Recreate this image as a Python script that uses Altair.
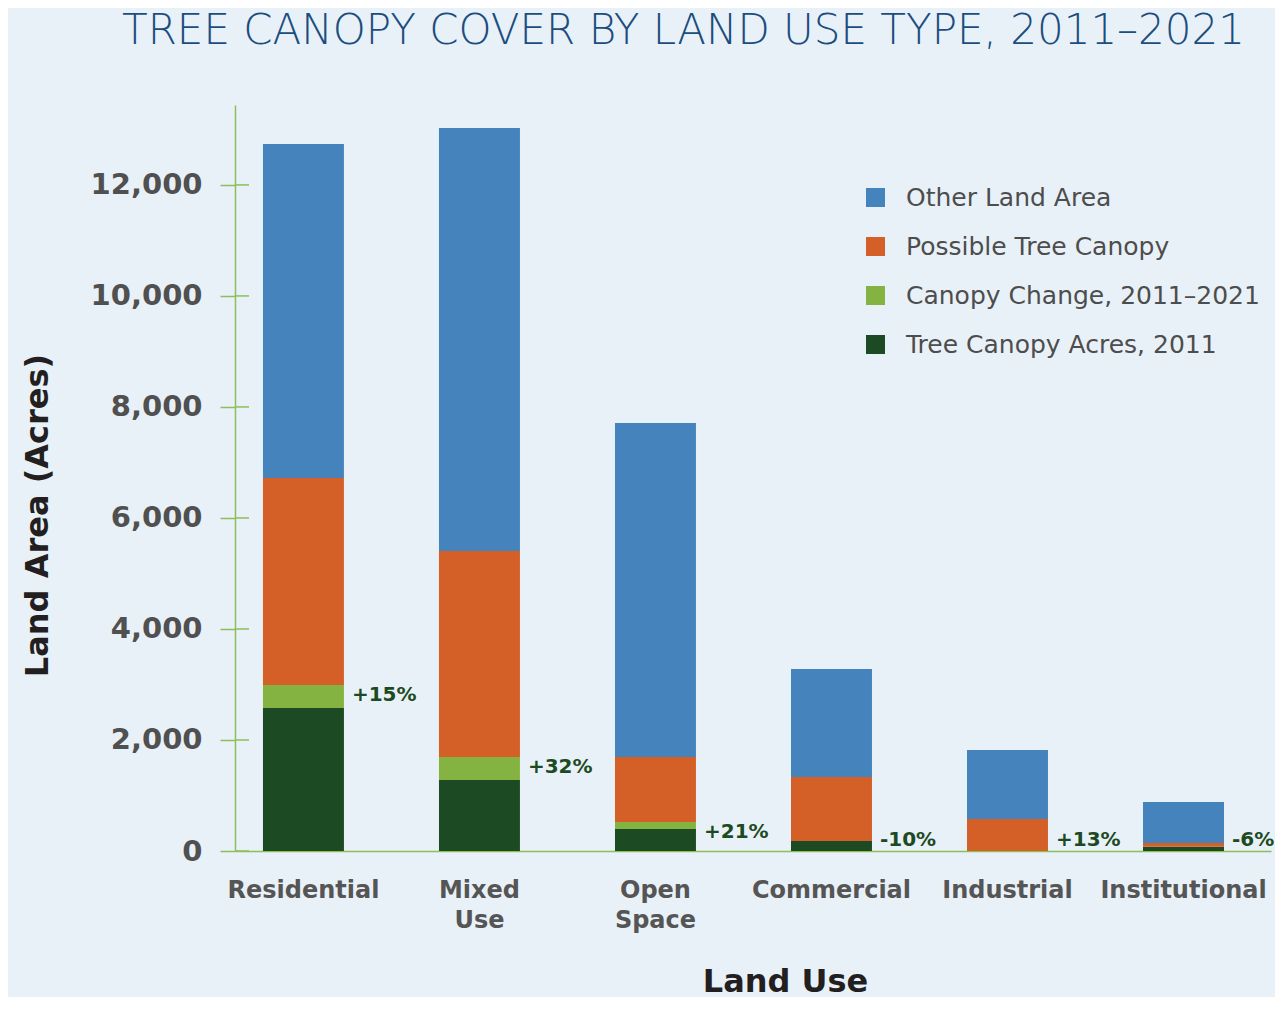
import altair as alt
import pandas as pd

categories = ["Residential", "Mixed Use", "Open Space", "Commercial", "Industrial", "Institutional"]
canopy_2011 = [2577, 1279, 396, 180, 0, 75]
canopy_change = [414, 415, 127, 0, 0, 0]
possible_canopy = [3730, 3711, 1171, 1153, 577, 70]
other_land = [6018, 7622, 6018, 1946, 1243, 739]
pct_labels = ["+15%", "+32%", "+21%", "-10%", "+13%", "-6%"]

series_stack = ["Tree Canopy Acres, 2011", "Canopy Change, 2011–2021", "Possible Tree Canopy", "Other Land Area"]
legend_order = ["Other Land Area", "Possible Tree Canopy", "Canopy Change, 2011–2021", "Tree Canopy Acres, 2011"]
legend_colors = ["#4583bd", "#d46027", "#84b342", "#1c4a22"]
y_ticks = [0, 2000, 4000, 6000, 8000, 10000, 12000]

GREEN = "#8cbf58"
FONT = "DejaVu Sans"

rows = []
for i, cat in enumerate(categories):
    vals = [canopy_2011[i], canopy_change[i], possible_canopy[i], other_land[i]]
    for k, (s, v) in enumerate(zip(series_stack, vals)):
        rows.append({"category": cat, "series": s, "acres": v, "stack_idx": k})
df = pd.DataFrame(rows)

df_lbl = pd.DataFrame({
    "category": categories,
    "label": pct_labels,
    "canopy": [a + b for a, b in zip(canopy_2011, canopy_change)],
})
df_ticks = pd.DataFrame({"v": y_ticks})

xscale = alt.Scale(paddingInner=0.54, paddingOuter=0.213, align=0.373)

bars = alt.Chart(df).mark_bar().encode(
    x=alt.X("category:N", sort=categories, scale=xscale,
            axis=alt.Axis(labelAngle=0, ticks=False, tickSize=0, domainColor=GREEN, domainWidth=1.5,
                          labelFontSize=24, labelFont=FONT, labelFontWeight="bold", labelColor="#555555",
                          labelPadding=27, labelBaseline="top", labelLineHeight=30, labelLimit=0,
                          labelExpr="indexof(datum.label, ' ') > 0 ? split(datum.label, ' ') : datum.label",
                          title="Land Use", titleFontSize=32, titleFont=FONT, titleFontWeight="bold",
                          titleColor="#231f20", titleX=550, titleY=140, titleAlign="center",
                          titleBaseline="alphabetic")),
    y=alt.Y("acres:Q", stack="zero", scale=alt.Scale(domain=[0, 13440], nice=False),
            axis=alt.Axis(values=y_ticks, format=",.0f", tickSize=15, tickColor=GREEN, tickWidth=1.5,
                          domainColor=GREEN, domainWidth=1.5, grid=False,
                          labelFontSize=29, labelFont=FONT, labelFontWeight="bold", labelColor="#505050",
                          labelPadding=18,
                          title="Land Area (Acres)", titleFontSize=32, titleFont=FONT, titleFontWeight="bold",
                          titleColor="#231f20", titleX=-198, titleY=410, titleAngle=270,
                          titleAlign="center", titleBaseline="middle")),
    color=alt.Color("series:N", scale=alt.Scale(domain=legend_order, range=legend_colors),
                    legend=alt.Legend(title=None, orient="none", legendX=628, legendY=80,
                                      symbolType="square", symbolSize=361, symbolStrokeWidth=0,
                                      labelFontSize=25, labelFont=FONT, labelColor="#4d4d4d",
                                      labelOffset=18, rowPadding=23, labelLimit=0)),
    order=alt.Order("stack_idx:Q", sort="ascending"),
)

labels = alt.Chart(df_lbl).transform_calculate(
    label_y="max(datum.canopy, 380)"
).mark_text(align="left", baseline="top", dx=8, fontSize=20, fontWeight="bold",
            font=FONT, color="#1c4a22").encode(
    x=alt.X("category:N", sort=categories, bandPosition=1),
    y=alt.Y("label_y:Q"),
    text="label:N",
)

tick_right = alt.Chart(df_ticks).mark_rule(color=GREEN, strokeWidth=1.5).encode(
    y=alt.Y("v:Q"),
    x=alt.value(0),
    x2=alt.value(14),
)

chart = alt.layer(bars, labels, tick_right).properties(
    width=1036,
    height=746,
    autosize=alt.AutoSizeParams(type="none"),
    padding={"left": 227, "top": 97, "right": 4, "bottom": 146},
    background="#e9f1f8",
    title=alt.Title("TREE CANOPY COVER BY LAND USE TYPE, 2011–2021", font="DejaVu Sans", fontSize=42,
                    fontWeight=200, color="#1b4d80", anchor="start", frame="group", dx=-113, offset=19,
                    baseline="alphabetic"),
).configure_view(stroke=None)

chart.save("out.html", embed_options={"renderer": "svg", "actions": False})
